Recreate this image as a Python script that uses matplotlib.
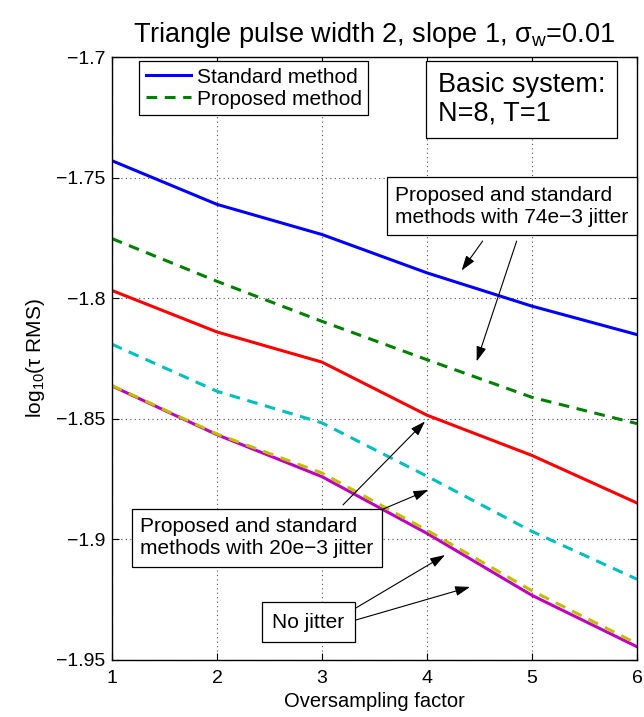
import matplotlib
matplotlib.use("Agg")
import matplotlib.pyplot as plt

plt.rcParams['font.family'] = ['Liberation Sans', 'DejaVu Sans']
plt.rcParams['mathtext.fontset'] = 'custom'
plt.rcParams['mathtext.rm'] = 'Liberation Sans'
plt.rcParams['mathtext.it'] = 'Liberation Sans'
plt.rcParams['mathtext.bf'] = 'Liberation Sans:bold'

oversampling = [1, 2, 3, 4, 5, 6]
standard_74 = [-1.7430, -1.7611, -1.7736, -1.7895, -1.8033, -1.8151]
proposed_74 = [-1.7753, -1.7930, -1.8096, -1.8255, -1.8411, -1.8520]
standard_20 = [-1.7968, -1.8140, -1.8265, -1.8485, -1.8652, -1.8849]
proposed_20 = [-1.8191, -1.8386, -1.8517, -1.8738, -1.8967, -1.9165]
standard_0 = [-1.8364, -1.8566, -1.8740, -1.8975, -1.9232, -1.9445]
proposed_0 = [-1.8362, -1.8563, -1.8725, -1.8962, -1.9213, -1.9432]

xticks = [1, 2, 3, 4, 5, 6]
yticks = [-1.95, -1.9, -1.85, -1.8, -1.75, -1.7]
yticklabels = ['\u22121.95', '\u22121.9', '\u22121.85', '\u22121.8', '\u22121.75', '\u22121.7']

fig = plt.figure(figsize=(6.44, 7.17), dpi=100)
ax = fig.add_axes([112/644, 1-660/717, 525/644, 603/717])

lw = 2.2
dash = (0, (3.5, 2.5))
ax.plot(oversampling, standard_74, color=(0, 0, 1), lw=lw, label='Standard method')
ax.plot(oversampling, proposed_74, color=(0, 0.5, 0), lw=lw, ls=dash, label='Proposed method')
ax.plot(oversampling, standard_20, color=(1, 0, 0), lw=lw)
ax.plot(oversampling, proposed_20, color=(0, 0.75, 0.75), lw=lw, ls=dash)
ax.plot(oversampling, standard_0, color=(0.75, 0, 0.75), lw=lw)
ax.plot(oversampling, proposed_0, color=(0.75, 0.75, 0), lw=lw, ls=dash)

ax.set_xlim(1, 6)
ax.set_ylim(-1.95, -1.7)
ax.set_xticks(xticks)
ax.set_yticks(yticks)
ax.set_yticklabels(yticklabels)
ax.tick_params(direction='in', top=True, right=True, labelsize=14, length=5)
ax.tick_params(axis='x', pad=7)
ax.tick_params(axis='y', pad=5)
ax.grid(True, linestyle=(0, (1, 3)), color='0.3', linewidth=0.8)
for s in ax.spines.values():
    s.set_linewidth(1.0)

ax.set_title(r'Triangle pulse width 2, slope 1, $\sigma_{\mathrm{w}}$=0.01', fontsize=19.5, pad=11)
ax.set_xlabel('Oversampling factor', fontsize=14.5, labelpad=4)
ax.set_ylabel('log$_{10}$(\u03c4 RMS)', fontsize=15, labelpad=6)

leg = ax.legend(loc='upper left', bbox_to_anchor=(0.0514, 0.9934), borderaxespad=0,
                fontsize=15, handlelength=2.2, handletextpad=0.25, fancybox=False,
                edgecolor='k', framealpha=1, borderpad=0.32, labelspacing=0.15)
leg.get_frame().set_linewidth(0.9)

box = dict(boxstyle='square,pad=0.4', fc='white', ec='k', lw=0.9)

ax.text(4.900, -1.7176, 'Basic system:\nN=8, T=1', fontsize=19.5, ha='center', va='center',
        multialignment='left', linespacing=1.1,
        bbox=dict(boxstyle='square,pad=0.42', fc='white', ec='k', lw=0.9), zorder=5)

ax.text(4.808, -1.7619, 'Proposed and standard\nmethods with 74e\u22123 jitter', fontsize=15,
        ha='center', va='center', multialignment='left', bbox=box, zorder=5)
ax.text(2.381, -1.8994, 'Proposed and standard\nmethods with 20e\u22123 jitter', fontsize=15,
        ha='center', va='center', multialignment='left', bbox=box, zorder=5)
ax.text(2.871, -1.9343, 'No jitter', fontsize=15, ha='center', va='center',
        bbox=dict(boxstyle='square,pad=0.5', fc='white', ec='k', lw=0.9), zorder=5)

arrow = dict(arrowstyle='-|>,head_length=0.9,head_width=0.3', color='k', lw=0.8, shrinkA=0, shrinkB=0)
arrows = [
    ((4.530, -1.7763), (4.330, -1.7885)),
    ((4.854, -1.7763), (4.473, -1.8262)),
    ((3.200, -1.8857), (3.981, -1.8511)),
    ((3.562, -1.8878), (4.012, -1.8795)),
    ((3.324, -1.9284), (4.171, -1.9065)),
    ((3.324, -1.9334), (4.410, -1.9197)),
]
for tail, head in arrows:
    ax.annotate('', xy=head, xytext=tail, arrowprops=arrow, zorder=6)

fig.savefig('out.png', dpi=100)
